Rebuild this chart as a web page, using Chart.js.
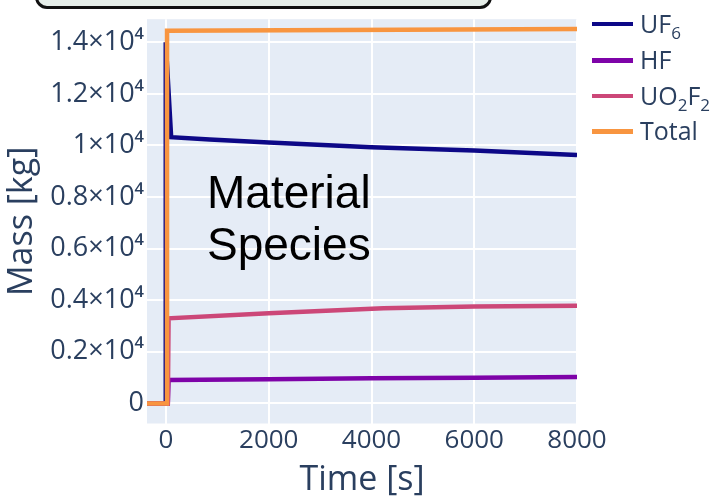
<!DOCTYPE html>
<html><head><meta charset="utf-8">
<script src="https://cdn.jsdelivr.net/npm/chart.js@4.4.0/dist/chart.umd.min.js"></script>
<style>
html,body{margin:0;padding:0;background:#fff;}
#wrap{position:relative;width:715px;height:498px;overflow:hidden;background:#fff;}
#c{position:absolute;left:0;top:0;}
#box{position:absolute;left:35px;top:-30px;width:451px;height:33px;border:3px solid #111;border-radius:12px;background:#e6eee9;}
#legend{position:absolute;left:592px;top:0;font-family:"Open Sans";font-size:25px;color:#2a3f5f;}
.sw{position:absolute;left:0;width:41px;height:4.5px;}
.lbl{position:absolute;left:48px;white-space:nowrap;line-height:34px;}
.lbl sub{font-size:17px;vertical-align:baseline;position:relative;top:6px;line-height:0;}
</style></head>
<body>
<div id="wrap">
<canvas id="c" width="715" height="498"></canvas>
<div id="box"></div>
<div id="legend"></div>
</div>
<script>
// ---- data ----
const seriesNames = ['UF6', 'HF', 'UO2F2', 'Total'];
const seriesColors = ['#0d0887', '#7e03a8', '#cc4778', '#f89540'];

const uf6Time  = [-370, -15, -5, 100, 850, 2000, 4000, 6000, 8000];
const uf6Mass  = [0, 0, 14000, 10320, 10235, 10119, 9930, 9805, 9626];

const hfTime   = [-370, 35, 50, 2000, 4000, 6000, 8000];
const hfMass   = [0, 0, 910, 936, 974, 997, 1023];

const uo2f2Time = [-370, 35, 50, 2000, 4230, 6000, 8000];
const uo2f2Mass = [0, 0, 3297, 3498, 3688, 3752, 3790];

const totalTime = [-370, 20, 20, 8000];
const totalMass = [0, 0, 14450, 14515];

const xTickValues = [0, 2000, 4000, 6000, 8000];
const xTickLabels = ['0', '2000', '4000', '6000', '8000'];
const yTickValues = [0, 2000, 4000, 6000, 8000, 10000, 12000, 14000];
const yTickLabels = ['0', '0.2×10⁴', '0.4×10⁴', '0.6×10⁴', '0.8×10⁴', '1×10⁴', '1.2×10⁴', '1.4×10⁴'];

const xTitle = 'Time [s]';
const yTitle = 'Mass [kg]';
const annotationLines = ['Material', 'Species'];

// ---- build ----
const toXY = (t, m) => t.map((v, i) => ({x: v, y: m[i]}));
const subDigits = s => s.replace(/\d/g, d => '₀₁₂₃₄₅₆₇₈₉'[+d]);
const allSeries = [[uf6Time, uf6Mass], [hfTime, hfMass], [uo2f2Time, uo2f2Mass], [totalTime, totalMass]];
const orders = [3, 2, 1, 0];

const datasets = allSeries.map((s, i) => ({
  label: subDigits(seriesNames[i]),
  data: toXY(s[0], s[1]),
  borderColor: seriesColors[i],
  backgroundColor: seriesColors[i],
  borderWidth: 4.5,
  pointRadius: 0,
  tension: 0,
  fill: false,
  order: orders[i],
  borderJoinStyle: 'miter'
}));

// HTML legend
const legendCenters = [23.5, 60, 95.7, 131];
const lg = document.getElementById('legend');
seriesNames.forEach((n, i) => {
  const sw = document.createElement('div');
  sw.className = 'sw';
  sw.style.top = (legendCenters[i] - 2) + 'px';
  sw.style.background = seriesColors[i];
  lg.appendChild(sw);
  const lb = document.createElement('div');
  lb.className = 'lbl';
  lb.style.top = (legendCenters[i] - 18) + 'px';
  lb.innerHTML = n.replace(/(\d)/g, '<sub>$1</sub>');
  lg.appendChild(lb);
});

const bgPlugin = {
  id: 'bg',
  beforeDraw(chart) {
    const {ctx, chartArea: a} = chart;
    ctx.save();
    ctx.fillStyle = '#e5ecf6';
    ctx.fillRect(a.left, a.top, a.right - a.left, a.bottom - a.top);
    ctx.restore();
  },
  afterDatasetsDraw(chart) {
    const ctx = chart.ctx;
    ctx.save();
    ctx.fillStyle = '#000';
    ctx.font = '46px "Liberation Sans", Arial, sans-serif';
    ctx.textBaseline = 'alphabetic';
    ctx.textAlign = 'left';
    annotationLines.forEach((t, i) => ctx.fillText(t, 207, 208 + i * 52));
    ctx.restore();
  }
};

const tickColor = '#2a3f5f';
new Chart(document.getElementById('c'), {
  type: 'line',
  data: {datasets},
  plugins: [bgPlugin],
  options: {
    responsive: false,
    animation: false,
    devicePixelRatio: 1,
    layout: {padding: {left: 0, right: 138, top: 10, bottom: 0}},
    plugins: {legend: {display: false}, tooltip: {enabled: false}},
    scales: {
      x: {
        type: 'linear',
        min: -370, max: 8000,
        afterBuildTicks: s => { s.ticks = xTickValues.map(v => ({value: v})); },
        afterFit: s => { s.height = 74.5; },
        ticks: {
          color: tickColor, padding: 1.5, maxRotation: 0, autoSkip: false,
          font: {family: 'Open Sans', size: 26, lineHeight: 1.2},
          callback: v => xTickLabels[xTickValues.indexOf(v)]
        },
        grid: {color: '#ffffff', lineWidth: 2, drawTicks: false},
        border: {display: false},
        title: {display: true, text: xTitle, color: tickColor,
          font: {family: 'Open Sans', size: 34, lineHeight: 1}, padding: {top: 0, bottom: 1}}
      },
      y: {
        type: 'linear',
        min: -780, max: 14895,
        afterBuildTicks: s => { s.ticks = yTickValues.map(v => ({value: v})); },
        afterFit: s => { s.width = 147; },
        ticks: {
          color: tickColor, padding: 3, autoSkip: false,
          font: {family: 'Open Sans', size: 27, lineHeight: 1.2},
          callback: v => yTickLabels[yTickValues.indexOf(v)]
        },
        grid: {color: '#ffffff', lineWidth: 2, drawTicks: false},
        border: {display: false},
        title: {display: true, text: yTitle, color: tickColor,
          font: {family: 'Open Sans', size: 34, lineHeight: 1}, padding: {top: 5, bottom: 0}}
      }
    }
  }
});
</script>
</body></html>
